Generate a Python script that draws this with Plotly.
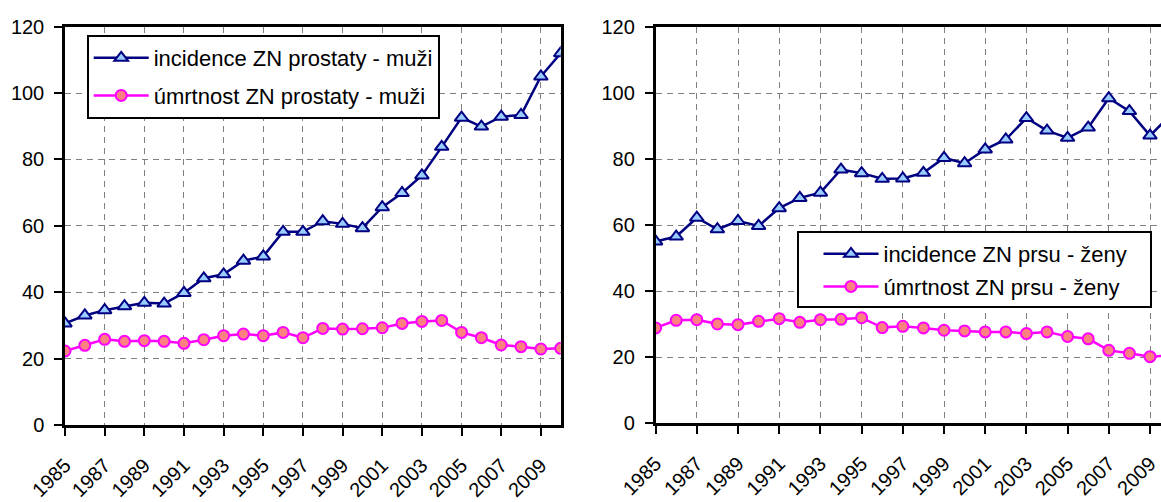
import plotly.graph_objects as go

years = [1985, 1986, 1987, 1988, 1989, 1990, 1991, 1992, 1993, 1994, 1995, 1996, 1997,
         1998, 1999, 2000, 2001, 2002, 2003, 2004, 2005, 2006, 2007, 2008, 2009, 2010]
tick_years = [1985, 1987, 1989, 1991, 1993, 1995, 1997, 1999, 2001, 2003, 2005, 2007, 2009]
tick_labels = ["1985", "1987", "1989", "1991", "1993", "1995", "1997", "1999", "2001",
               "2003", "2005", "2007", "2009"]
y_ticks = [0, 20, 40, 60, 80, 100, 120]

prostate_incidence = [30.6, 33.0, 34.6, 35.8, 36.8, 36.6, 39.8, 44.2, 45.4, 49.5, 50.8, 58.2, 58.2,
                      61.4, 60.6, 59.3, 65.6, 69.9, 75.2, 83.8, 92.6, 89.9, 92.9, 93.4, 105.0, 112.0]
prostate_mortality = [22.3, 24.0, 25.8, 25.2, 25.4, 25.2, 24.6, 25.7, 26.9, 27.4, 26.9, 27.9, 26.3,
                      29.1, 28.9, 29.0, 29.3, 30.6, 31.2, 31.5, 27.9, 26.3, 24.1, 23.6, 22.9, 23.1]
breast_incidence = [55.1, 56.6, 62.3, 58.8, 61.3, 59.8, 65.2, 68.3, 69.9, 76.9, 75.8, 74.1, 74.2,
                    75.9, 80.4, 78.8, 83.0, 86.0, 92.5, 88.7, 86.5, 89.6, 98.5, 94.6, 87.2, 93.4]
breast_mortality = [28.9, 31.2, 31.4, 30.1, 29.9, 30.9, 31.7, 30.6, 31.4, 31.5, 32.0, 29.0, 29.4,
                    28.9, 28.2, 28.0, 27.7, 27.7, 27.2, 27.7, 26.3, 25.6, 22.1, 21.2, 20.2, 20.5]

names_left = ["incidence ZN prostaty - muži", "úmrtnost ZN prostaty - muži"]
names_right = ["incidence ZN prsu - ženy", "úmrtnost ZN prsu - ženy"]

NAVY = "#000080"
TRI_FILL = "#99CCFF"
MAGENTA = "#FF00FF"
CIRC_FILL = "#FF8080"
TICK_FONT = dict(family="Liberation Sans, Arial", size=20, color="black")
LEG_FONT = dict(family="Liberation Sans, Arial", size=22, color="black")

W, H = 1161, 502
fig = go.Figure()


def inc_trace(y, name, xa, ya, leg, grp):
    return go.Scatter(x=years, y=y, name=name, mode="lines+markers", xaxis=xa, yaxis=ya,
                      legend=leg, legendgroup=grp,
                      line=dict(color=NAVY, width=2.5),
                      marker=dict(symbol="triangle-up", size=12, color=TRI_FILL,
                                  line=dict(color=NAVY, width=2)))


def mort_trace(y, name, xa, ya, leg, grp):
    return go.Scatter(x=years, y=y, name=name, mode="lines+markers", xaxis=xa, yaxis=ya,
                      legend=leg, legendgroup=grp,
                      line=dict(color=MAGENTA, width=2.5),
                      marker=dict(symbol="circle", size=11, color=CIRC_FILL,
                                  line=dict(color=MAGENTA, width=2)))


fig.add_trace(inc_trace(prostate_incidence, names_left[0], "x", "y", "legend", "a"))
fig.add_trace(mort_trace(prostate_mortality, names_left[1], "x", "y", "legend", "b"))
fig.add_trace(inc_trace(breast_incidence, names_right[0], "x2", "y2", "legend2", "c"))
fig.add_trace(mort_trace(breast_mortality, names_right[1], "x2", "y2", "legend2", "d"))

left_x0, left_x1 = 65.0, 560.7
right_x0 = 655.6
right_px_per_year = 20.6
right_end = 1985 + (W - right_x0) / right_px_per_year


def xaxis_cfg(domain, rng, anchor):
    return dict(domain=domain, range=rng, tickmode="array", tickvals=tick_years, ticktext=tick_labels,
                tickangle=-45, tickfont=TICK_FONT, ticks="outside", ticklen=8, tickwidth=2,
                tickcolor="black", showline=True, linecolor="black", linewidth=2.5, mirror=True,
                showgrid=True, gridcolor="#808080", gridwidth=1, griddash="6px,5px",
                zeroline=False, fixedrange=True, automargin=False, anchor=anchor,
                ticklabelstandoff=10)


def yaxis_cfg(domain, anchor, mirror):
    return dict(domain=domain, range=[0, 120], tickmode="array", tickvals=y_ticks,
                tickfont=TICK_FONT, ticks="outside", ticklen=8, tickwidth=2, tickcolor="black",
                showline=True, linecolor="black", linewidth=2.5, mirror=mirror,
                showgrid=True, gridcolor="#808080", gridwidth=1, griddash="6px,5px",
                zeroline=False, anchor=anchor, ticklabelstandoff=6, automargin=False,
                fixedrange=True)


# frame behind the right-hand legend (its box is wider than the entries)
box2 = dict(x0=798, x1=1151, top=232, bottom=307)

fig.update_layout(
    width=W, height=H,
    margin=dict(l=0, r=0, t=0, b=0, autoexpand=False),
    paper_bgcolor="white", plot_bgcolor="white",
    xaxis=xaxis_cfg([left_x0 / W, left_x1 / W], [1985, 2010], "y"),
    yaxis=yaxis_cfg([1 - 425 / H, 1 - 26.7 / H], "x", True),
    xaxis2=xaxis_cfg([right_x0 / W, 1.0], [1985, right_end], "y2"),
    yaxis2=yaxis_cfg([1 - 423.3 / H, 1 - 27.3 / H], "x2", False),
    legend=dict(x=86.7 / W, y=1 - 35 / H, xanchor="left", yanchor="top",
                bgcolor="white", bordercolor="black", borderwidth=2, font=LEG_FONT,
                itemwidth=55, tracegroupgap=6, traceorder="grouped"),
    legend2=dict(x=818.5 / W, y=1 - 233 / H, xanchor="left", yanchor="top",
                 bgcolor="rgba(0,0,0,0)", borderwidth=0, font=LEG_FONT,
                 itemwidth=55, tracegroupgap=1, traceorder="grouped"),
    shapes=[dict(type="rect", xref="paper", yref="paper", layer="above",
                 x0=box2["x0"] / W, x1=box2["x1"] / W,
                 y0=1 - box2["bottom"] / H, y1=1 - box2["top"] / H,
                 fillcolor="white", line=dict(color="black", width=2))],
    showlegend=True,
)

fig.write_html("out.html", config={"displayModeBar": False},
               post_script="document.body.style.margin='0';document.body.style.overflow='hidden';")
